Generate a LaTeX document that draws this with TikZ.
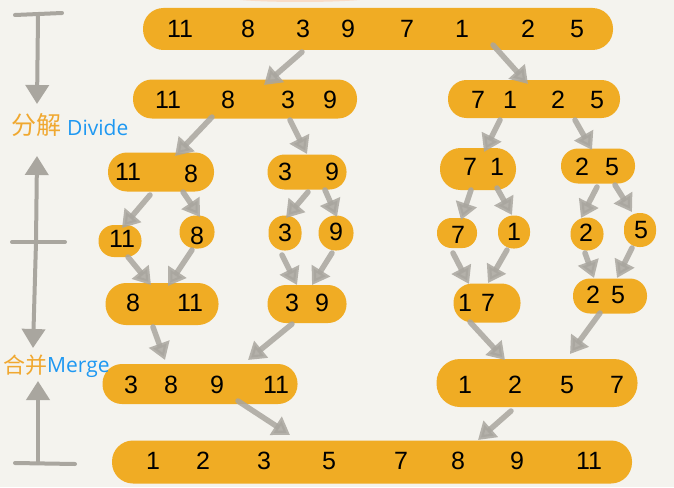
\documentclass[tikz,border=0pt]{standalone}
\usepackage{fontspec}
\setmainfont{Liberation Sans}
\newfontfamily\cjkfont{Noto Sans CJK SC}
\newfontfamily\labfont{Open Sans}
\usetikzlibrary{arrows.meta,calc}
\definecolor{bgc}{HTML}{F4F3EE}
\definecolor{blobc}{HTML}{F0AC24}
\definecolor{arrc}{HTML}{A9A69F}
\definecolor{lblblue}{HTML}{1E98F2}
\definecolor{lblor}{HTML}{F0A830}
\definecolor{smear}{HTML}{F8DCC8}
\newcommand\mkblob[5]{\pgfmathsetmacro\blobrad{min(#4,#5)/2-0.5}%
  \node[blob,minimum width=#4pt,minimum height=#5pt,rounded corners=\blobrad pt] (#1) at (#2,#3) {};}
\tikzset{
  blob/.style={fill=blobc,draw=none,inner sep=0pt,outer sep=0pt},
  num/.style={font=\fontsize{25}{25}\selectfont,inner sep=0pt,text=black},
  arr/.style={draw=arrc,line width=5.5pt,opacity=0.85,line cap=round,
    -{Triangle[width=21pt,length=17pt]}},
  axis/.style={draw=arrc,line width=4pt,line cap=round},
  axarr/.style={axis,-{Triangle[width=23pt,length=19pt]}},
}
\begin{document}
\begin{tikzpicture}[x=1pt,y=-1pt]
\fill[bgc] (0,0) rectangle (674,487);
\useasboundingbox (0,0) rectangle (674,487);
\fill[smear] (300,-3) ellipse [x radius=75, y radius=5];
% blobs
\mkblob{T}{378}{29}{470}{42}
\mkblob{R2L}{245}{99}{224}{39}
\mkblob{R2R}{534}{99}{172}{38}
\mkblob{R3a}{161}{172}{106}{39}
\mkblob{R3b}{307}{172}{79}{35}
\mkblob{R3c}{478}{169}{76}{42}
\mkblob{R3d}{598}{166}{74}{35}
\mkblob{s11}{120}{241}{43}{32}
\mkblob{s8}{197}{232}{35}{33}
\mkblob{s3}{285}{233}{33}{35}
\mkblob{s9}{336}{233}{35}{35}
\mkblob{s7}{457}{233}{40}{30}
\mkblob{s1}{514}{232}{32}{33}
\mkblob{s2}{587}{234}{33}{33}
\mkblob{s5}{640}{230}{32}{34}
\mkblob{m811}{162}{304}{113}{42}
\mkblob{m39}{307}{304}{79}{38}
\mkblob{m17}{487}{303}{67}{39}
\mkblob{m25}{610}{296}{74}{35}
\mkblob{L4}{200}{384}{195}{40}
\mkblob{R4}{537}{383}{201}{48}
\mkblob{B}{372}{462}{520}{43}
% numbers
\foreach \x/\t [count=\i] in {180/11,248/8,303/3,348/9,407/7,462/1,528/2,577/5}
  \node[num] (tn\i) at (\x,29) {\t};
\foreach \x/\t [count=\i] in {168/11,228/8,288/3,330/9}
  \node[num] (aln\i) at (\x,100) {\t};
\foreach \x/\t [count=\i] in {478/7,510/1,558/2,597/5}
  \node[num] (arn\i) at (\x,100) {\t};
\foreach \x/\y/\t [count=\i] in {128/172/11,191/174/8,285/172/3,332/172/9,470/167/7,497/167/1,582/167/2,612/167/5}
  \node[num] (qn\i) at (\x,\y) {\t};
\foreach \x/\y/\t [count=\i] in {122/239/11,197/236/8,285/233/3,336/232/9,458/235/7,514/232/1,586/233/2,641/230/5}
  \node[num] (sn\i) at (\x,\y) {\t};
\foreach \x/\y/\t [count=\i] in {133/303/8,190/303/11,292/303/3,322/303/9,465/303/1,488/303/7,593/295/2,618/295/5}
  \node[num] (pn\i) at (\x,\y) {\t};
\foreach \x/\t [count=\i] in {131/3,171/8,217/9,276/11,465/1,515/2,567/5,617/7}
  \node[num] (fn\i) at (\x,385) {\t};
\foreach \x/\t [count=\i] in {153/1,203/2,264/3,329/5,401/7,458/8,517/9,589/11}
  \node[num] (bn\i) at (\x,461) {\t};
% connectors
\draw[arr] ([shift={(-76,23)}]T.center) -- ([shift={(19,-14)}]R2L.center);
\draw[arr] ([shift={(115,16)}]T.center) -- ([shift={(-6,-15)}]R2R.center);
\draw[arr] ([shift={(-33,18)}]R2L.center) -- ([shift={(14,-16)}]R3a.center);
\draw[arr] ([shift={(45,21)}]R2L.center) -- ([shift={(0,-18)}]R3b.center);
\draw[arr] ([shift={(-34,21)}]R2R.center) -- ([shift={(6,-17)}]R3c.center);
\draw[arr] ([shift={(41,21)}]R2R.center) -- ([shift={(-6,-16)}]R3d.center);
\draw[arr] ([shift={(-11,23)}]R3a.center) -- ([shift={(2,-13)}]s11.center);
\draw[arr] ([shift={(22,20)}]R3a.center) -- ([shift={(3,-15)}]s8.center);
\draw[arr] ([shift={(1,20)}]R3b.center) -- ([shift={(1,-15)}]s3.center);
\draw[arr] ([shift={(18,18)}]R3b.center) -- ([shift={(1,-16)}]s9.center);
\draw[arr] ([shift={(-7,21)}]R3c.center) -- ([shift={(4,-13)}]s7.center);
\draw[arr] ([shift={(19,19)}]R3c.center) -- ([shift={(-2,-17)}]s1.center);
\draw[arr] ([shift={(-1,21)}]R3d.center) -- ([shift={(-6,-16)}]s2.center);
\draw[arr] ([shift={(17,19)}]R3d.center) -- ([shift={(-8,-18)}]s5.center);
\draw[arr] ([shift={(8,16)}]s11.center) -- ([shift={(-11,-19)}]m811.center);
\draw[arr] ([shift={(-5,18)}]s8.center) -- ([shift={(6,-18)}]m811.center);
\draw[arr] ([shift={(-3,22)}]s3.center) -- ([shift={(-10,-19)}]m39.center);
\draw[arr] ([shift={(-4,20)}]s9.center) -- ([shift={(5,-19)}]m39.center);
\draw[arr] ([shift={(-4,20)}]s7.center) -- ([shift={(-18,-19)}]m17.center);
\draw[arr] ([shift={(-7,18)}]s1.center) -- ([shift={(1,-20)}]m17.center);
\draw[arr] ([shift={(-2,19)}]s2.center) -- ([shift={(-16,-18)}]m25.center);
\draw[arr] ([shift={(-8,18)}]s5.center) -- ([shift={(7,-18)}]m25.center);
\draw[arr] ([shift={(-9,23)}]m811.center) -- ([shift={(-35,-24)}]L4.center);
\draw[arr] ([shift={(-15,20)}]m39.center) -- ([shift={(48,-24)}]L4.center);
\draw[arr] ([shift={(-17,19)}]m17.center) -- ([shift={(-32,-23)}]R4.center);
\draw[arr] ([shift={(-10,17)}]m25.center) -- ([shift={(33,-29)}]R4.center);
\draw[arr] ([shift={(38,17)}]L4.center) -- ([shift={(-82,-27)}]B.center);
\draw[arr] ([shift={(-26,28)}]R4.center) -- ([shift={(106,-22)}]B.center);
% left axis
\coordinate (tk1a) at (15,15); \coordinate (tk1b) at (62,13);
\coordinate (ax1a) at (38,16); \coordinate (ax1b) at (37,104);
\coordinate (tk2a) at (12,242); \coordinate (tk2b) at (65,242);
\coordinate (ax2a) at (36,242); \coordinate (ax2b) at (37,156);
\coordinate (ax3a) at (36,242); \coordinate (ax3b) at (33,348);
\coordinate (tk3a) at (15,463); \coordinate (tk3b) at (75,464);
\coordinate (ax4a) at (38,463); \coordinate (ax4b) at (38,381);
\draw[axis] (tk1a) -- (tk1b);
\draw[axis] (tk2a) -- (tk2b);
\draw[axis] (tk3a) -- (tk3b);
\draw[axarr] (ax1a) -- (ax1b);
\draw[axarr] (ax2a) -- (ax2b);
\draw[axarr] (ax3a) -- (ax3b);
\draw[axarr] (ax4a) -- (ax4b);
\node[text=lblor,font=\cjkfont\fontsize{25}{25}\selectfont,inner sep=0pt] (fen) at (37,125) {分解};
\node[text=lblblue,font=\labfont\fontsize{21}{21}\selectfont,inner sep=0pt,anchor=west] (div) at (67,128) {Divide};
\node[text=lblor,font=\cjkfont\fontsize{22}{22}\selectfont,inner sep=0pt] (he) at (25,365) {合并};
\node[text=lblblue,font=\labfont\fontsize{21}{21}\selectfont,inner sep=0pt,anchor=west] (mer) at (47,368) {Merge};
\end{tikzpicture}
\end{document}
